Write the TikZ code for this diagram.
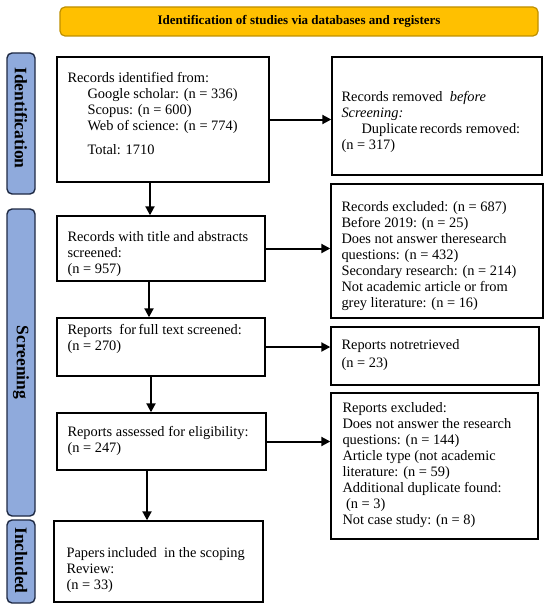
\documentclass[tikz,border=0pt]{standalone}
\usepackage{fontspec}
\setmainfont{Liberation Serif}
\usetikzlibrary{arrows.meta}
\definecolor{gold}{HTML}{FFC000}
\definecolor{goldline}{HTML}{BF9000}
\definecolor{sideblue}{HTML}{8FAADC}
\definecolor{sideline}{HTML}{1F2A44}
\tikzset{
  box/.style={draw=black, line width=1.4pt, fill=white, inner sep=0pt},
  txt/.style={anchor=north west, inner sep=0pt, align=left, font=\fontsize{14.4}{16}\selectfont},
  sidebar/.style={draw=sideline, line width=1.4pt, fill=sideblue, rounded corners=5pt, inner sep=0pt,
    minimum width=28pt},
  sidetxt/.style={rotate=-90, font=\fontsize{17.5}{18}\selectfont\bfseries, inner sep=0pt},
  arr/.style={line width=2pt, -{Triangle[length=9pt,width=9pt]}},
}
\begin{document}
\begin{tikzpicture}[x=1pt,y=-1pt]
\useasboundingbox (0,0) rectangle (550,610);
% title
\node[draw=goldline, line width=1.2pt, fill=gold, rounded corners=5pt, minimum width=478pt, minimum height=29pt,
  font=\fontsize{13}{15}\selectfont\bfseries] (title) at (299,21.5) {Identification of studies via databases and registers};
% side bars
\node[sidebar, minimum height=141pt] (s1) at (21,123.5) {};
\node[sidetxt] (s1t) at (21,118) {Identification};
\node[sidebar, minimum height=307pt] (s2) at (21,362.5) {};
\node[sidetxt] (s2t) at (21,362.5) {Screening};
\node[sidebar, minimum height=83pt] (s3) at (21,561.5) {};
\node[sidetxt] (s3t) at (21,560.5) {Included};
% boxes
\node[box, minimum width=212pt, minimum height=125pt] (b1) at (163,119.5) {};
\node[box, minimum width=210pt, minimum height=118pt] (b2) at (437,116) {};
\node[box, minimum width=208pt, minimum height=65pt] (b3) at (161,248.5) {};
\node[box, minimum width=212pt, minimum height=134pt] (b4) at (437,251) {};
\node[box, minimum width=208pt, minimum height=58pt] (b5) at (161,347) {};
\node[box, minimum width=208pt, minimum height=58pt] (b6) at (435,356) {};
\node[box, minimum width=209pt, minimum height=57pt] (b7) at (161.5,441.5) {};
\node[box, minimum width=207pt, minimum height=146pt] (b8) at (434.5,466) {};
\node[box, minimum width=209pt, minimum height=81pt] (b9) at (158.5,561.5) {};
% texts
\node[txt] (t1) at ([xshift=11pt,yshift=-14.3pt]b1.north west) {\strut Records identified from:\\
  \hspace*{20pt}Google scholar: (n = 336)\\
  \hspace*{20pt}Scopus: (n = 600)\\
  \hspace*{20pt}Web of science: (n = 774)\\[8pt]
  \hspace*{20pt}Total: 1710};
\node[txt] (t2) at ([xshift=10pt,yshift=-33.3pt]b2.north west) {\strut Records removed\enspace\textit{before}\\
  \textit{Screening:}\\
  \hspace*{20pt}Duplicate\,records removed:\\
  (n = 317)};
\node[txt] (t3) at ([xshift=11pt,yshift=-14.3pt]b3.north west) {\strut Records with title and abstracts\\
  screened:\\
  (n = 957)};
\node[txt] (t4) at ([xshift=11pt,yshift=-16.3pt]b4.north west) {\strut Records excluded: (n = 687)\\
  Before 2019: (n = 25)\\
  Does not answer theresearch\\
  questions: (n = 432)\\
  Secondary research: (n = 214)\\
  Not academic article or from\\
  grey literature: (n = 16)};
\node[txt] (t5) at ([xshift=11pt,yshift=-5.3pt]b5.north west) {\strut Reports\enspace for\,full text screened:\\
  (n = 270)};
\node[txt] (t6) at ([xshift=11pt,yshift=-11.3pt]b6.north west) {\strut Reports notretrieved\\[2pt]
  (n = 23)};
\node[txt] (t7) at ([xshift=11pt,yshift=-12.3pt]b7.north west) {\strut Reports assessed for eligibility:\\
  (n = 247)};
\node[txt] (t8) at ([xshift=12pt,yshift=-8.3pt]b8.north west) {\strut Reports excluded:\\
  Does not answer the research\\
  questions: (n = 144)\\
  Article type (not academic\\
  literature: (n = 59)\\
  Additional duplicate found:\\
  \ (n = 3)\\
  Not case study: (n = 8)};
\node[txt] (t9) at ([xshift=13pt,yshift=-25.3pt]b9.north west) {\strut Papers\,included\enspace in the scoping\\
  Review:\\
  (n = 33)};
% horizontal arrows
\draw[arr] (b1.east) -- (b1.east -| b2.west);
\draw[arr] (b3.east) -- (b3.east -| b4.west);
\draw[arr] (b5.east) -- (b5.east -| b6.west);
\draw[arr] (b7.east) -- (b7.east -| b8.west);
% vertical arrows
\coordinate (v1) at (150,0);
\coordinate (v2) at (149,0);
\coordinate (v3) at (151,0);
\coordinate (v4) at (147,0);
\draw[arr] (b1.south -| v1) -- (b3.north -| v1);
\draw[arr] (b3.south -| v2) -- (b5.north -| v2);
\draw[arr] (b5.south -| v3) -- (b7.north -| v3);
\draw[arr] (b7.south -| v4) -- (b9.north -| v4);
\end{tikzpicture}
\end{document}
